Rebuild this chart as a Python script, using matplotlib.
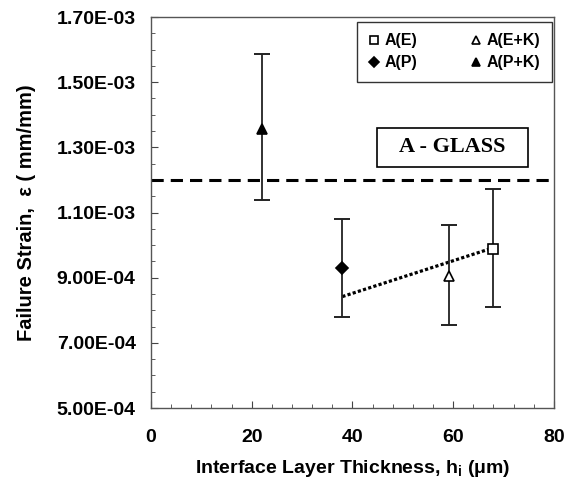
import numpy as np
import matplotlib
matplotlib.use('Agg')
import matplotlib.pyplot as plt
from matplotlib.ticker import MultipleLocator, FuncFormatter
from matplotlib.patches import Rectangle

plt.rcParams['font.family'] = ['Liberation Sans', 'DejaVu Sans']
plt.rcParams['font.weight'] = 'bold'
plt.rcParams['mathtext.fontset'] = 'custom'
plt.rcParams['mathtext.rm'] = 'Liberation Sans:bold'
plt.rcParams['mathtext.bf'] = 'Liberation Sans:bold'

# data
labels = ['A(E)', 'A(E+K)', 'A(P)', 'A(P+K)']
thickness = [67.9, 59.1, 38.0, 22.0]
strain = [9.89e-4, 9.06e-4, 9.29e-4, 1.356e-3]
err_hi = [1.171e-3, 1.061e-3, 1.081e-3, 1.587e-3]
err_lo = [8.11e-4, 7.55e-4, 7.79e-4, 1.137e-3]
markers = ['s', '^', 'D', '^']
filled = [False, False, True, True]
msizes = [7, 7.5, 6.5, 7.5]

glass_strain = 1.2e-3
trend_x = [38.0, 68.0]
trend_y = [8.42e-4, 9.92e-4]

yticks = np.arange(5e-4, 1.71e-3, 2e-4)

fig = plt.figure(figsize=(5.71, 4.87), dpi=100)
ax = fig.add_axes([0.2644, 0.1622, 0.7056, 0.8028])

ax.axhline(glass_strain, color='black', lw=2.2, dashes=(4, 2.3))
ax.plot(trend_x, trend_y, color='black', lw=2.3, linestyle=(0, (1, 0.7)))

for i in range(len(labels)):
    ax.errorbar(thickness[i], strain[i],
                yerr=[[strain[i] - err_lo[i]], [err_hi[i] - strain[i]]],
                fmt='none', ecolor='#222222', elinewidth=1.3, capsize=6, capthick=1.4)
    ax.plot(thickness[i], strain[i], linestyle='none', marker=markers[i],
            markersize=msizes[i], markeredgecolor='black', markeredgewidth=1.2,
            markerfacecolor='black' if filled[i] else 'white', label=labels[i], zorder=3)

ax.set_xlim(0, 80)
ax.set_ylim(5e-4, 1.7e-3)
ax.set_yticks(yticks)
ax.xaxis.set_major_locator(MultipleLocator(20))
ax.xaxis.set_minor_locator(MultipleLocator(4))
ax.yaxis.set_minor_locator(MultipleLocator(5e-5))
ax.yaxis.set_major_formatter(FuncFormatter(lambda v, p: f'{v:.2E}'))

ax.tick_params(which='both', direction='in', color='#444444', labelsize=14)
ax.tick_params(which='major', length=5)
ax.tick_params(which='minor', length=3)
ax.tick_params(axis='x', pad=15)
ax.tick_params(axis='y', pad=11)
for s in ax.spines.values():
    s.set_color('#555555')
    s.set_linewidth(1.0)

ax.set_xlabel(r'Interface Layer Thickness, h$_\mathbf{i}$ (μm)', fontsize=14, fontweight='bold', labelpad=9)
ax.set_ylabel('Failure Strain,  ε ( mm/mm)', fontsize=14.5, fontweight='bold', labelpad=15)

ax.add_patch(Rectangle((0.56, 0.617), 0.377, 0.098, transform=ax.transAxes,
                       fill=False, edgecolor='black', lw=1.2))
ax.text(0.7485, 0.667, 'A - GLASS', transform=ax.transAxes, ha='center', va='center',
        family='Liberation Serif', fontweight='bold', fontsize=16)

handles, labs = ax.get_legend_handles_labels()
order = [0, 2, 1, 3]
leg = ax.legend([handles[k] for k in order], [labs[k] for k in order], ncol=2,
                loc='upper right', bbox_to_anchor=(0.995, 0.987), borderaxespad=0,
                fancybox=False, edgecolor='black', fontsize=11.5, handlelength=0.7,
                handletextpad=0.35, columnspacing=3.3, borderpad=0.7,
                labelspacing=0.45, markerscale=0.8)
leg.get_frame().set_linewidth(1.0)

plt.savefig('out.png', dpi=100)
